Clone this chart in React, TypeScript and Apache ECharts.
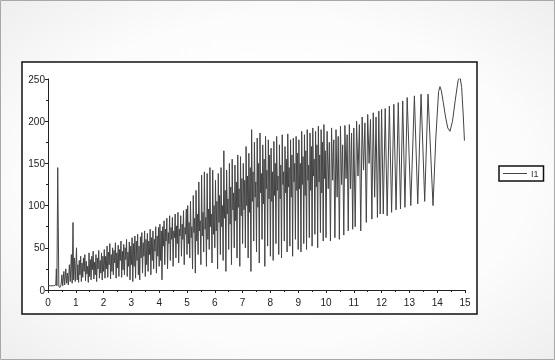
import React, { useEffect, useRef } from "react";
import * as echarts from "echarts";

const seriesName = "I1";
const xTicks = { min: 0, max: 15, interval: 1 };
const yTicks = { min: 0, max: 250, interval: 50 };

const seg0: number[][] = [[0,5],[0.1,5],[0.2,5],[0.28,6],[0.3,25],[0.32,5],[0.35,145],[0.37,75],[0.39,4],[0.43,3],[0.47,6],[0.5,18],[0.53,5],[0.57,22],[0.6,6],[0.64,25],[0.67,8],[0.7,20],[0.73,6],[0.77,30],[0.8,10],[0.84,42],[0.87,8],[0.9,80],[0.92,12],[0.95,38],[0.98,10]];
const seg1: number[][] = [[1.025,50],[1.05,12],[1.075,30],[1.1,9],[1.125,35],[1.15,18],[1.175,40],[1.2,10],[1.225,32],[1.25,15],[1.275,38],[1.3,22],[1.325,42],[1.35,11],[1.375,34],[1.4,19],[1.425,28],[1.45,9],[1.475,44],[1.5,16],[1.525,36],[1.55,12],[1.575,40],[1.6,24],[1.625,46],[1.65,13],[1.675,33],[1.7,18],[1.725,42],[1.75,10],[1.775,38],[1.8,25],[1.825,47],[1.85,14],[1.875,35],[1.9,20],[1.925,44],[1.95,12],[1.975,40],[2.0,22]];
const seg2: number[][] = [[2.025,48],[2.05,14],[2.075,40],[2.1,25],[2.125,52],[2.15,15],[2.175,45],[2.2,30],[2.225,55],[2.25,13],[2.275,42],[2.3,22],[2.325,50],[2.35,18],[2.375,47],[2.4,32],[2.425,56],[2.45,14],[2.475,44],[2.5,26],[2.525,53],[2.55,16],[2.575,48],[2.6,35],[2.625,58],[2.65,15],[2.675,46],[2.7,24],[2.725,54],[2.75,18],[2.775,50],[2.8,36],[2.825,60],[2.85,16],[2.875,45],[2.9,28],[2.925,57],[2.95,12],[2.975,52],[3.0,30]];
const seg3: number[][] = [[3.025,62],[3.05,10],[3.075,55],[3.1,28],[3.125,64],[3.15,14],[3.175,58],[3.2,35],[3.225,66],[3.25,18],[3.275,52],[3.3,12],[3.325,63],[3.35,38],[3.375,68],[3.4,20],[3.425,56],[3.45,40],[3.475,70],[3.5,16],[3.525,60],[3.55,30],[3.575,67],[3.6,22],[3.625,58],[3.65,42],[3.675,72],[3.7,18],[3.725,62],[3.75,35],[3.775,70],[3.8,25],[3.825,60],[3.85,46],[3.875,75],[3.9,20],[3.925,64],[3.95,40],[3.975,74],[4.0,28]];
const seg4: number[][] = [[4.025,78],[4.05,35],[4.075,70],[4.1,12],[4.125,75],[4.15,52],[4.175,82],[4.2,30],[4.225,72],[4.25,58],[4.275,85],[4.3,25],[4.325,68],[4.35,55],[4.375,88],[4.4,35],[4.425,74],[4.45,60],[4.475,86],[4.5,28],[4.525,70],[4.55,62],[4.575,90],[4.6,38],[4.625,76],[4.65,55],[4.675,92],[4.7,32],[4.725,72],[4.75,64],[4.775,88],[4.8,40],[4.825,78],[4.85,60],[4.875,94],[4.9,30],[4.925,74],[4.95,66],[4.975,96],[5.0,42]];
const seg5: number[][] = [[5.025,100],[5.05,55],[5.075,80],[5.1,38],[5.125,105],[5.15,62],[5.175,75],[5.2,25],[5.225,112],[5.25,68],[5.275,85],[5.3,20],[5.325,118],[5.35,58],[5.375,90],[5.4,42],[5.425,128],[5.45,70],[5.475,82],[5.5,30],[5.525,136],[5.55,64],[5.575,92],[5.6,45],[5.625,140],[5.65,72],[5.675,86],[5.7,28],[5.725,138],[5.75,60],[5.775,96],[5.8,48],[5.825,145],[5.85,75],[5.875,90],[5.9,32],[5.925,142],[5.95,66],[5.975,100],[6.0,50]];
const seg6: number[][] = [[6.025,130],[6.05,70],[6.075,105],[6.1,25],[6.125,138],[6.15,80],[6.175,112],[6.2,42],[6.225,145],[6.25,75],[6.275,100],[6.3,35],[6.325,165],[6.35,85],[6.375,118],[6.4,22],[6.425,142],[6.45,90],[6.475,108],[6.5,48],[6.525,150],[6.55,78],[6.575,122],[6.6,30],[6.625,155],[6.65,95],[6.675,115],[6.7,50],[6.725,148],[6.75,82],[6.775,128],[6.8,38],[6.825,160],[6.85,98],[6.875,120],[6.9,28],[6.925,158],[6.95,88],[6.975,132],[7.0,55]];
const seg7: number[][] = [[7.025,150],[7.05,95],[7.075,130],[7.1,50],[7.125,170],[7.15,100],[7.175,135],[7.2,38],[7.225,162],[7.25,92],[7.275,145],[7.3,22],[7.325,190],[7.35,105],[7.375,140],[7.4,58],[7.425,175],[7.45,110],[7.475,128],[7.5,45],[7.525,180],[7.55,98],[7.575,150],[7.6,32],[7.625,186],[7.65,115],[7.675,138],[7.7,60],[7.725,172],[7.75,102],[7.775,155],[7.8,28],[7.825,182],[7.85,120],[7.875,142],[7.9,52],[7.925,178],[7.95,108],[7.975,160],[8.0,40]];
const seg8: number[][] = [[8.025,168],[8.05,105],[8.075,140],[8.1,35],[8.125,176],[8.15,112],[8.175,150],[8.2,55],[8.225,182],[8.25,118],[8.275,135],[8.3,42],[8.325,172],[8.35,108],[8.375,148],[8.4,38],[8.425,184],[8.45,125],[8.475,140],[8.5,58],[8.525,170],[8.55,115],[8.575,155],[8.6,45],[8.625,185],[8.65,122],[8.675,145],[8.7,52],[8.725,178],[8.75,110],[8.775,160],[8.8,40],[8.825,180],[8.85,128],[8.875,150],[8.9,60],[8.925,182],[8.95,118],[8.975,162],[9.0,48]];
const seg9: number[][] = [[9.025,178],[9.05,120],[9.075,150],[9.1,45],[9.125,188],[9.15,125],[9.175,158],[9.2,55],[9.225,184],[9.25,112],[9.275,165],[9.3,48],[9.325,190],[9.35,130],[9.375,148],[9.4,62],[9.425,186],[9.45,118],[9.475,170],[9.5,52],[9.525,192],[9.55,135],[9.575,155],[9.6,66],[9.625,188],[9.65,122],[9.675,172],[9.7,50],[9.725,194],[9.75,128],[9.775,160],[9.8,68],[9.825,190],[9.85,115],[9.875,175],[9.9,58],[9.925,196],[9.95,132],[9.975,165],[10.0,62]];
const seg10: number[][] = [[10.04,188],[10.08,120],[10.12,175],[10.16,58],[10.2,192],[10.24,130],[10.28,178],[10.32,62],[10.36,190],[10.4,110],[10.44,182],[10.48,60],[10.52,194],[10.56,125],[10.6,172],[10.64,65],[10.68,195],[10.72,132],[10.76,184],[10.8,70],[10.84,196],[10.88,120],[10.92,186],[10.96,72],[11.0,192]];
const seg11: number[][] = [[11.05,75],[11.1,200],[11.15,135],[11.2,196],[11.25,70],[11.3,205],[11.35,142],[11.4,198],[11.45,80],[11.5,208],[11.55,150],[11.6,202],[11.65,84],[11.7,210],[11.75,110],[11.8,205],[11.85,86],[11.9,212],[11.95,90],[12.0,214]];
const seg12: number[][] = [[12.06,90],[12.13,215],[12.2,88],[12.28,218],[12.36,92],[12.44,220],[12.52,95],[12.6,222],[12.68,96],[12.76,224],[12.84,98],[12.92,228]];
const seg13: number[][] = [[13.05,100],[13.18,230],[13.3,102],[13.42,232],[13.55,105],[13.67,232],[13.85,100]];
const seg14: number[][] = [[13.95,180],[14.05,235],[14.1,241],[14.15,236],[14.22,222],[14.3,205],[14.38,192],[14.46,188],[14.55,200],[14.65,225],[14.75,248],[14.82,253],[14.88,240],[14.94,205],[14.98,177]];

const allData = [seg0, seg1, seg2, seg3, seg4, seg5, seg6, seg7, seg8, seg9, seg10, seg11, seg12, seg13, seg14].flat();

export default function App() {
  const ref = useRef<HTMLDivElement>(null);
  useEffect(() => {
    if (!ref.current) return;
    const chart = echarts.init(ref.current, null, { renderer: "svg" });
    const font = "Liberation Sans";
    chart.setOption({
      animation: false,
      graphic: [
        {
          type: "rect",
          z: -10,
          shape: { x: 0.5, y: 0.5, width: 554, height: 359 },
          style: {
            fill: new echarts.graphic.RadialGradient(0.5, 0.5, 0.75, [
              { offset: 0, color: "#ffffff" },
              { offset: 0.6, color: "#fcfcfc" },
              { offset: 1, color: "#ececec" },
            ]),
            stroke: "#a8a8a8",
            lineWidth: 1,
          },
          silent: true,
        },
        {
          type: "rect",
          z: -5,
          shape: { x: 22, y: 62, width: 455, height: 252 },
          style: { fill: "#ffffff", stroke: "#111", lineWidth: 1.5 },
          silent: true,
        },
      ],
      legend: {
        left: 499,
        top: 166,
        orient: "vertical",
        padding: [3, 5, 3, 4],
        borderColor: "#111",
        borderWidth: 1.5,
        backgroundColor: "#fff",
        itemWidth: 24,
        itemHeight: 8,
        itemGap: 4,
        textStyle: { fontFamily: font, fontSize: 9, color: "#333", padding: [0, 0, 0, -1] },
        data: [{ name: seriesName, icon: "path://M0,4 L24,4 L24,5 L0,5 Z" }],
      },
      grid: { left: 48, right: 90, top: 79, bottom: 70 },
      xAxis: {
        type: "value",
        min: xTicks.min,
        max: xTicks.max,
        interval: xTicks.interval,
        axisLine: { show: true, onZero: false, lineStyle: { color: "#222", width: 1 } },
        axisTick: { show: true, inside: false, length: 3, lineStyle: { color: "#222" } },
        minorTick: { show: true, splitNumber: 2, length: 2, lineStyle: { color: "#222" } },
        splitLine: { show: false },
        axisLabel: { fontFamily: font, fontSize: 10, color: "#222", margin: 7 },
      },
      yAxis: {
        type: "value",
        min: yTicks.min,
        max: yTicks.max,
        interval: yTicks.interval,
        axisLine: { show: true, onZero: false, lineStyle: { color: "#222", width: 1 } },
        axisTick: { show: true, length: 3, lineStyle: { color: "#222" } },
        minorTick: { show: true, splitNumber: 2, length: 2, lineStyle: { color: "#222" } },
        splitLine: { show: false },
        axisLabel: { fontFamily: font, fontSize: 10, color: "#222", margin: 3 },
      },
      series: [
        {
          name: seriesName,
          type: "line",
          data: allData,
          showSymbol: false,
          symbol: "none",
          lineStyle: { color: "#444444", width: 1 },
          itemStyle: { color: "#444444" },
        },
      ],
    });
    return () => chart.dispose();
  }, []);
  return <div ref={ref} style={{ position: "fixed", left: 0, top: 0, width: 555, height: 360 }} />;
}
